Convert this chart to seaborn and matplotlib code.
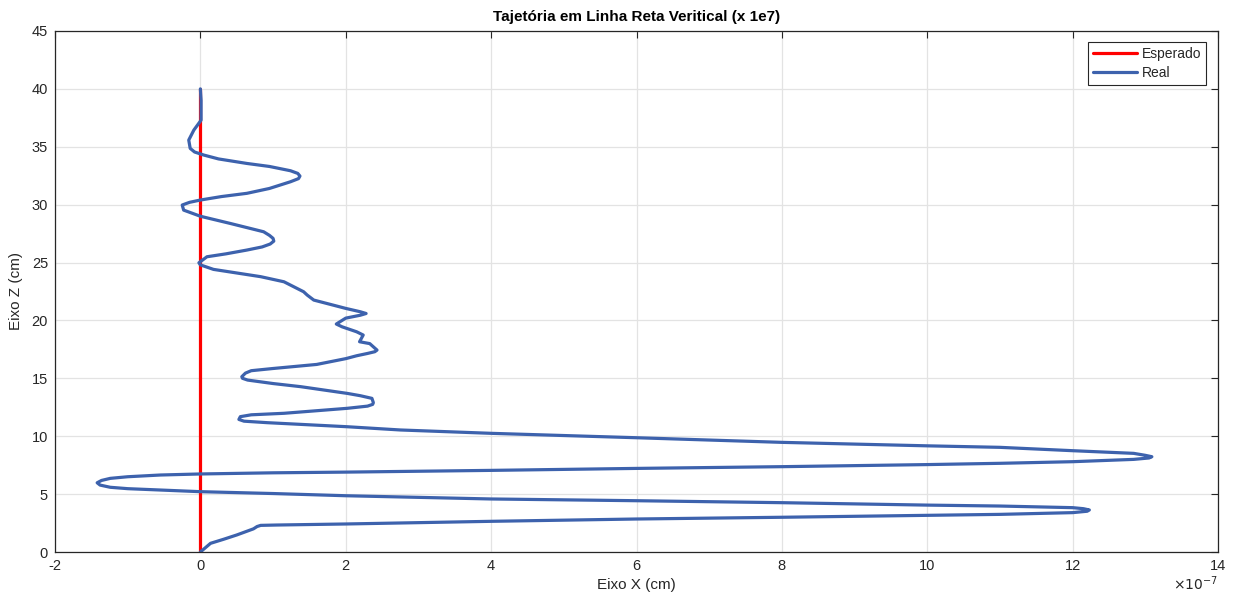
import matplotlib
matplotlib.use("Agg")
import matplotlib.pyplot as plt
import seaborn as sns
import pandas as pd

# Data (x in units of 1e-7 cm, z in cm)
expected_x = [0.0, 0.0]
expected_z = [0.0, 40.0]

real_x = [0.0, 0.14, 0.32, 0.5, 0.73, 0.78, 0.83, 1.05, 2.0, 4.0, 6.0, 8.0, 10.0, 11.0, 12.0, 12.2,
          12.23, 12.15, 12.0, 11.0, 10.0, 8.0, 6.0, 4.0, 2.0, 1.0, 0.0, -0.55, -1.0, -1.24, -1.38,
          -1.42, -1.36, -1.24, -1.0, -0.55, 0.0, 1.0, 2.0, 4.0, 6.0, 8.0, 10.0, 11.0, 12.0, 12.84,
          13.05, 13.09, 13.0, 12.84, 12.0, 11.0, 10.0, 8.0, 6.0, 4.0, 2.75, 2.02, 0.92, 0.6, 0.53,
          0.55, 0.7, 1.15, 2.02, 2.3, 2.37, 2.38, 2.36, 2.2, 2.02, 1.38, 1.0, 0.65, 0.58, 0.57, 0.62, 0.7, 1.0,
          1.6, 2.0, 2.15, 2.3, 2.4, 2.43, 2.33, 2.19, 2.24, 2.15, 1.95, 1.87, 2.0, 2.2, 2.28, 2.2, 2.0, 1.56, 1.47,
          1.42, 1.24, 1.15, 0.83, 0.4, 0.18, 0.0, -0.02, 0.09, 0.35, 0.64, 0.85, 0.96, 1.01, 1.0, 0.95, 0.87, 0.41, 0.0,
          -0.23, -0.25, -0.15, 0.0, 0.29, 0.64, 0.95, 1.24, 1.35, 1.37, 1.34, 1.24, 0.95, 0.64, 0.25, 0.05, -0.08, -0.14, -0.16, -0.09, 0.01, 0.01, 0.0]
real_z = [0.0, 0.75, 1.1, 1.47, 2.0, 2.2, 2.3, 2.33, 2.42, 2.65, 2.85, 3.0, 3.17, 3.25, 3.4, 3.52,
          3.63, 3.74, 3.83, 3.97, 4.05, 4.26, 4.43, 4.58, 4.86, 5.05, 5.21, 5.35, 5.47, 5.59, 5.78,
          5.98, 6.18, 6.36, 6.5, 6.65, 6.74, 6.84, 6.9, 7.05, 7.22, 7.37, 7.55, 7.66, 7.8, 8.0,
          8.12, 8.23, 8.35, 8.52, 8.75, 9.04, 9.17, 9.47, 9.87, 10.25, 10.54, 10.82, 11.17, 11.3, 11.45,
          11.69, 11.85, 11.98, 12.41, 12.6, 12.75, 12.9, 13.27, 13.5, 13.7, 14.28, 14.55, 14.85, 15.0, 15.14, 15.45, 15.66, 15.85,
          16.2, 16.7, 16.95, 17.15, 17.3, 17.44, 18.0, 18.16, 18.74, 19.02, 19.45, 19.69, 20.2, 20.45, 20.6, 20.75, 21.04, 21.76, 22.19,
          22.48, 23.06, 23.34, 23.78, 24.2, 24.41, 24.8, 24.98, 25.5, 25.75, 26.08, 26.35, 26.6, 26.85, 27.09, 27.35, 27.66, 28.38, 29.0,
          29.53, 29.97, 30.2, 30.4, 30.7, 30.98, 31.4, 31.98, 32.25, 32.47, 32.7, 32.93, 33.3, 33.56, 33.95, 34.28, 34.55, 34.86, 35.58, 36.44, 37.3, 39.0, 40.0]

x_ticks = [-2, 0, 2, 4, 6, 8, 10, 12, 14]
z_ticks = [0, 5, 10, 15, 20, 25, 30, 35, 40, 45]

sns.set_style("white")
plt.rcParams['font.family'] = ['Liberation Sans', 'DejaVu Sans']
plt.rcParams['axes.unicode_minus'] = False

fig = plt.figure(figsize=(12.4, 6.01), dpi=100)
ax = fig.add_axes([55/1240, 1-552/601, (1218-55)/1240, (552-31)/601])

df_real = pd.DataFrame({"x": real_x, "z": real_z})
df_exp = pd.DataFrame({"x": expected_x, "z": expected_z})

sns.lineplot(data=df_exp, x="x", y="z", sort=False, estimator=None, color="#ff0000",
             linewidth=2.3, ax=ax, label="Esperado")
sns.lineplot(data=df_real, x="x", y="z", sort=False, estimator=None, color="#3d62ad",
             linewidth=2.3, ax=ax, label="Real", solid_joinstyle="round", solid_capstyle="round")

ax.set_xlim(-2, 14)
ax.set_ylim(0, 45)
ax.set_xticks(x_ticks)
ax.set_yticks(z_ticks)
ax.grid(True, color="#e3e3e3", linewidth=0.9)
ax.set_axisbelow(True)
for s in ax.spines.values():
    s.set_visible(True)
    s.set_color("#262626")
    s.set_linewidth(0.9)
ax.tick_params(direction="in", top=True, right=True, length=5, width=0.8,
               colors="#262626", labelsize=10.5, pad=5)
ax.set_xlabel("Eixo X (cm)", fontsize=11, color="#262626", labelpad=4)
ax.set_ylabel("Eixo Z (cm)", fontsize=11, color="#262626", labelpad=6)
ax.set_title("Tajetória em Linha Reta Veritical (x 1e7)", fontsize=11, fontweight="bold",
             color="#000000", pad=7)
ax.text(1.0, -0.06, r"$\times10^{-7}$", transform=ax.transAxes, ha="right", va="center",
        fontsize=10, color="#262626")

leg = ax.legend(loc="upper right", bbox_to_anchor=(0.9897, 0.979), fontsize=10,
                frameon=True, fancybox=False, edgecolor="#262626", framealpha=1,
                borderpad=0.35, handlelength=3.2, handletextpad=0.3, labelspacing=0.35,
                borderaxespad=0)
leg.get_frame().set_linewidth(0.8)

fig.savefig("out.png", dpi=100)
